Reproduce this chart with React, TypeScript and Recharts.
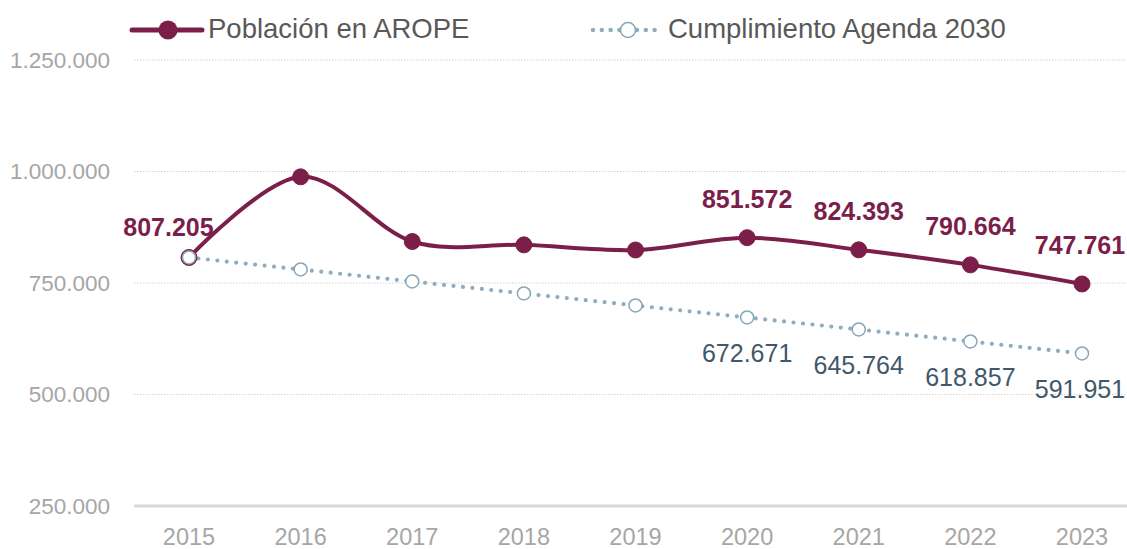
import React from 'react';
import { LineChart, Line, XAxis, YAxis, CartesianGrid, Legend, LabelList } from 'recharts';

const years = ['2015', '2016', '2017', '2018', '2019', '2020', '2021', '2022', '2023'];
const aropeValues = [807205, 988000, 843000, 835500, 824000, 851572, 824393, 790664, 747761];
const agendaValues = [807205, 780298, 753391, 726484, 699578, 672671, 645764, 618857, 591951];
const yTicks = [250000, 500000, 750000, 1000000, 1250000];
const aropeLabelIdx = [0, 5, 6, 7, 8];
const agendaLabelIdx = [5, 6, 7, 8];
const aropeName = 'Población en AROPE';
const agendaName = 'Cumplimiento Agenda 2030';

const data = years.map((y, i) => ({ year: y, arope: aropeValues[i], agenda: agendaValues[i] }));

const MAROON = '#7b1f4a';
const BLUE = '#8eadbf';
const BLUE_MARK = '#86a7ba';
const SLATE = '#40586a';
const TICK = '#a6a6a6';
const FONT = '"Liberation Sans", Arial, sans-serif';

const W = 1127;
const H = 549;

const fmt = (v: number) => String(Math.round(v)).replace(/\B(?=(\d{3})+(?!\d))/g, '.');

function cardinal(tension: number) {
  const k = (1 - tension) / 6;
  return (context: any) => {
    let x0 = NaN, x1 = NaN, x2 = NaN, y0 = NaN, y1 = NaN, y2 = NaN, pt = 0;
    let line: number = NaN;
    const seg = (x: number, y: number) =>
      context.bezierCurveTo(
        x1 + k * (x2 - x0), y1 + k * (y2 - y0),
        x2 + k * (x1 - x), y2 + k * (y1 - y),
        x2, y2
      );
    return {
      areaStart() { line = 0; },
      areaEnd() { line = NaN; },
      lineStart() { x0 = x1 = x2 = y0 = y1 = y2 = NaN; pt = 0; },
      lineEnd() {
        if (pt === 2) context.lineTo(x2, y2);
        else if (pt === 3) seg(x1, y1);
        if (line || (line !== 0 && pt === 1)) context.closePath();
        line = 1 - line;
      },
      point(xx: number, yy: number) {
        const x = +xx, y = +yy;
        switch (pt) {
          case 0: pt = 1; line ? context.lineTo(x, y) : context.moveTo(x, y); break;
          case 1: pt = 2; x1 = x; y1 = y; break;
          case 2: pt = 3; seg(x, y); break;
          default: seg(x, y); break;
        }
        x0 = x1; x1 = x2; x2 = x;
        y0 = y1; y1 = y2; y2 = y;
      },
    };
  };
}

const smooth = cardinal(0);

const LegendContent = () => (
  <svg width={W} height={52} style={{ display: 'block' }}>
    <line x1={132} y1={30} x2={202} y2={30} stroke={MAROON} strokeWidth={5} strokeLinecap="round" />
    <circle cx={168} cy={30} r={9.5} fill={MAROON} />
    <text x={208} y={37.5} fontFamily={FONT} fontSize={27.5} fill="#595959">{aropeName}</text>
    <line x1={593} y1={30} x2={663} y2={30} stroke={BLUE} strokeWidth={4.5} strokeLinecap="round" strokeDasharray="0 8.8" />
    <circle cx={628} cy={30} r={7.5} fill="#fff" stroke={BLUE_MARK} strokeWidth={1.5} />
    <text x={668} y={37.5} fontFamily={FONT} fontSize={27.5} fill="#595959">{agendaName}</text>
  </svg>
);

const aropeLabel = (props: any) => {
  const { x, y, value, index } = props;
  if (!aropeLabelIdx.includes(index)) return null;
  const dx = index === 0 ? -20.5 : index === 8 ? -2 : 0;
  const dy = index === 0 ? 21 : 30;
  return (
    <text x={x + dx} y={y - dy} textAnchor="middle" fontFamily={FONT} fontSize={25} fontWeight={700} fill={MAROON}>
      {fmt(value)}
    </text>
  );
};

const agendaLabel = (props: any) => {
  const { x, y, value, index } = props;
  if (!agendaLabelIdx.includes(index)) return null;
  const dx = index === 8 ? -2 : 0;
  return (
    <text x={x + dx} y={y + 45} textAnchor="middle" fontFamily={FONT} fontSize={25} fill={SLATE}>
      {fmt(value)}
    </text>
  );
};

export default function App() {
  return (
    <div style={{ position: 'absolute', top: 0, left: 0, width: W, height: H, overflow: 'hidden', background: '#fff' }}>
      <LineChart width={W} height={H} data={data} margin={{ top: 8, right: 0, bottom: 0, left: 0 }}>
        <CartesianGrid vertical={false} stroke="#d4d4d4" strokeDasharray="1.5 1.5" />
        <XAxis
          dataKey="year"
          height={43}
          padding={{ left: 55, right: 45 }}
          axisLine={{ stroke: '#d9d9d9', strokeWidth: 3 }}
          tickLine={false}
          tickSize={0}
          tickMargin={22}
          tick={{ fill: TICK, fontSize: 23.5, fontFamily: FONT }}
          interval={0}
        />
        <YAxis
          width={134}
          domain={[250000, 1250000]}
          ticks={yTicks}
          axisLine={false}
          tickLine={false}
          tickSize={0}
          tickMargin={24}
          tickFormatter={fmt}
          tick={{ fill: TICK, fontSize: 22.5, fontFamily: FONT }}
        />
        <Legend verticalAlign="top" height={52} wrapperStyle={{ top: 0, left: 0 }} content={<LegendContent />} />
        <Line
          name={aropeName}
          dataKey="arope"
          type={smooth as any}
          stroke={MAROON}
          strokeWidth={4}
          dot={{ r: 8, fill: MAROON, stroke: MAROON, strokeWidth: 1 }}
          isAnimationActive={false}
        >
          <LabelList dataKey="arope" content={aropeLabel} />
        </Line>
        <Line
          name={agendaName}
          dataKey="agenda"
          type="linear"
          stroke={BLUE}
          strokeWidth={4.2}
          strokeLinecap="round"
          strokeDasharray="0 9.5"
          dot={{ r: 6.5, fill: '#fff', stroke: BLUE_MARK, strokeWidth: 1.5, strokeDasharray: '' }}
          isAnimationActive={false}
        >
          <LabelList dataKey="agenda" content={agendaLabel} />
        </Line>
      </LineChart>
    </div>
  );
}
